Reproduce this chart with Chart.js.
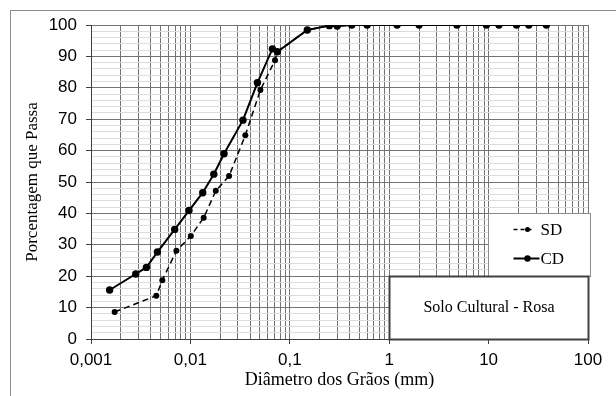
<!DOCTYPE html>
<html>
<head>
<meta charset="utf-8">
<script src="https://cdn.jsdelivr.net/npm/chart.js@4.4.1/dist/chart.umd.min.js"></script>
<style>
  html, body { margin: 0; padding: 0; background: #fff; }
</style>
</head>
<body>
<canvas id="chart" width="616" height="396"></canvas>
<script>
// grain diameter (mm) and % passing
const sdDiam = [0.00173, 0.00454, 0.00522, 0.00723, 0.0101, 0.0136, 0.018, 0.0245, 0.0357, 0.0506, 0.071, 0.075, 0.15, 0.25, 0.3, 0.42, 0.6, 1.2, 2.0, 4.8, 9.5, 12.7, 19.1, 25.4, 38.1];
const sdPass = [8.6, 13.8, 18.7, 28.1, 32.8, 38.6, 47.2, 51.9, 64.9, 79.3, 88.8, 91.5, 98.4, 99.8, 99.7, 100, 100, 100, 100, 100, 100, 100, 100, 100, 100];

const cdDiam = [0.00154, 0.00282, 0.00361, 0.00466, 0.00695, 0.00968, 0.0133, 0.0172, 0.0218, 0.0338, 0.0472, 0.0668, 0.075, 0.15, 0.25, 0.3, 0.42, 0.6, 1.2, 2.0, 4.8, 9.5, 12.7, 19.1, 25.4, 38.1];
const cdPass = [15.6, 20.7, 22.8, 27.7, 34.9, 40.9, 46.6, 52.5, 59.0, 69.7, 81.6, 92.4, 91.5, 98.4, 99.8, 99.7, 100, 100, 100, 100, 100, 100, 100, 100, 100, 100];

const xDecades = [0.001, 0.01, 0.1, 1, 10, 100];
const xTickLabels = ['0,001', '0,01', '0,1', '1', '10', '100'];
const seriesNames = ['SD', 'CD'];
const boxText = 'Solo Cultural - Rosa';

// log grid: 1..9 in every decade
const xGrid = [];
for (let e = -3; e <= 1; e++) {
    for (let m = 1; m <= 9; m++) xGrid.push(parseFloat((m * Math.pow(10, e)).toPrecision(3)));
}
xGrid.push(100);

const isDecade = v => xDecades.some(d => Math.abs(v - d) / d < 1e-6);

const toPoints = (xs, ys) => xs.map((x, i) => ({ x: x, y: ys[i] }));

const serif = 'Liberation Serif, Times New Roman, serif';
const sans = 'Liberation Sans, Arial, sans-serif';

const extras = {
    id: 'extras',
    beforeDraw(chart) {
        const ctx = chart.ctx;
        ctx.save();
        ctx.strokeStyle = '#8c8c8c';
        ctx.lineWidth = 1;
        ctx.strokeRect(10.5, 10.5, 800, 600);
        ctx.restore();
    },
    afterDraw(chart) {
        const { ctx, chartArea, scales } = chart;
        const x = scales.x, y = scales.y;
        const right = Math.round(chartArea.right) + 0.5;

        // y axis title
        ctx.save();
        ctx.fillStyle = '#000';
        ctx.font = '17px ' + serif;
        ctx.textAlign = 'center';
        ctx.textBaseline = 'middle';
        ctx.translate(33, (chartArea.top + chartArea.bottom) / 2);
        ctx.rotate(-Math.PI / 2);
        ctx.fillText('Porcentagem que Passa', 0, 0);
        ctx.restore();

        // legend box
        const lx = Math.round(x.getPixelForValue(10)) - 0.5;
        const ly = Math.round(y.getPixelForValue(40)) + 0.5;
        const lb = Math.round(y.getPixelForValue(20)) + 0.5;
        ctx.save();
        ctx.fillStyle = '#fff';
        ctx.fillRect(lx, ly, right + 2 - lx, lb - ly);
        ctx.strokeStyle = '#8c8c8c';
        ctx.lineWidth = 1;
        ctx.strokeRect(lx, ly, right + 2 - lx, lb - ly);

        const rows = [ly + 16, ly + 45];
        chart.data.datasets.forEach((ds, i) => {
            const cy = rows[i];
            ctx.strokeStyle = '#000';
            ctx.lineWidth = ds.borderWidth;
            ctx.setLineDash(i === 0 ? [4, 3] : []);
            ctx.beginPath();
            ctx.moveTo(lx + 25, cy);
            ctx.lineTo(lx + (i === 0 ? 44 : 51), cy);
            ctx.stroke();
            ctx.setLineDash([]);
            ctx.fillStyle = '#000';
            ctx.beginPath();
            ctx.arc(lx + 39, cy, ds.pointRadius - 0.5, 0, Math.PI * 2);
            ctx.fill();
            ctx.font = '17px ' + serif;
            ctx.textAlign = 'left';
            ctx.textBaseline = 'middle';
            ctx.fillText(ds.label, lx + 52, cy + 1);
        });

        // text box
        const tx = Math.round(x.getPixelForValue(1)) + 0.5;
        const tb = Math.round(y.getPixelForValue(0)) + 0.5;
        ctx.fillStyle = '#fff';
        ctx.fillRect(tx, lb, right - tx, tb - lb);
        ctx.strokeStyle = '#404040';
        ctx.strokeRect(tx, lb, right - tx, tb - lb);
        ctx.fillStyle = '#000';
        ctx.font = '16px ' + serif;
        ctx.textAlign = 'center';
        ctx.textBaseline = 'middle';
        ctx.fillText(boxText, (tx + right) / 2, (lb + tb) / 2);
        ctx.restore();
    }
};

new Chart(document.getElementById('chart'), {
    type: 'line',
    data: {
        datasets: [
            {
                label: seriesNames[0],
                data: toPoints(sdDiam, sdPass),
                borderColor: '#000',
                backgroundColor: '#000',
                borderWidth: 1.5,
                borderDash: [6, 4],
                pointRadius: 3,
                pointBorderWidth: 0,
                tension: 0
            },
            {
                label: seriesNames[1],
                data: toPoints(cdDiam, cdPass),
                borderColor: '#000',
                backgroundColor: '#000',
                borderWidth: 2,
                pointRadius: 3.7,
                pointBorderWidth: 0,
                tension: 0
            }
        ]
    },
    options: {
        responsive: false,
        animation: false,
        layout: { padding: { left: 0, top: 25, right: 28, bottom: 0 } },
        plugins: { legend: { display: false }, tooltip: { enabled: false } },
        scales: {
            x: {
                type: 'logarithmic',
                min: 0.001,
                max: 100,
                afterBuildTicks(scale) { scale.ticks = xGrid.map(v => ({ value: v })); },
                afterFit(scale) { scale.height = 57; },
                ticks: {
                    autoSkip: false,
                    maxRotation: 0,
                    padding: 6,
                    color: '#000',
                    font: { family: sans, size: 17 },
                    callback(v) {
                        const i = xDecades.findIndex(d => Math.abs(v - d) / d < 1e-6);
                        return i >= 0 ? xTickLabels[i] : '';
                    }
                },
                grid: {
                    color: '#737373',
                    tickLength: 5,
                    tickColor: c => (c.tick && isDecade(c.tick.value)) ? '#404040' : 'rgba(0,0,0,0)'
                },
                border: { color: '#404040' },
                title: {
                    display: true,
                    text: 'Diâmetro dos Grãos (mm)',
                    color: '#000',
                    font: { family: serif, size: 18 },
                    padding: { top: 0, bottom: 5 }
                }
            },
            y: {
                min: 0,
                max: 100,
                afterFit(scale) { scale.width = 91; },
                ticks: {
                    stepSize: 2,
                    autoSkip: false,
                    padding: 9,
                    color: '#000',
                    font: { family: sans, size: 17 },
                    callback: v => (v % 10 === 0 ? String(v) : '')
                },
                grid: {
                    color: c => (c.tick && c.tick.value % 10 === 0) ? '#737373' : '#dcdcdc',
                    tickLength: 5,
                    tickColor: c => (c.tick && c.tick.value % 10 === 0) ? '#404040' : 'rgba(0,0,0,0)'
                },
                border: { color: '#404040' }
            }
        }
    },
    plugins: [extras]
});
</script>
</body>
</html>
